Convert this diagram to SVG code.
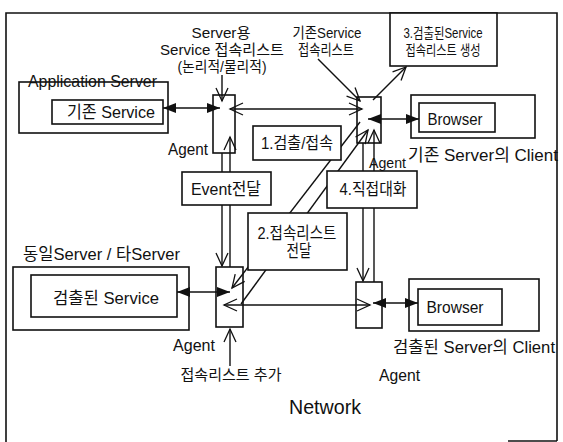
<svg xmlns="http://www.w3.org/2000/svg" width="563" height="442" viewBox="0 0 563 442">
<style>
text{font-family:"Liberation Sans","Noto Sans CJK KR",sans-serif;font-size:16.5px;fill:#111}
.c{text-anchor:middle}
.s{font-size:15px}
.box{fill:none;stroke:#111;stroke-width:1.6}
.lbl{fill:#fff;stroke:#111;stroke-width:1.6}
.ln{fill:none;stroke:#111;stroke-width:1.4}
.fa{marker-start:url(#fh);marker-end:url(#fh)}
.oa{marker-start:url(#oh);marker-end:url(#oh)}
.oe{marker-end:url(#oh)}
</style>
<defs>
<marker id="fh" markerUnits="userSpaceOnUse" markerWidth="14" markerHeight="11" refX="13" refY="5" orient="auto-start-reverse" overflow="visible"><path d="M0,0 L13,5 L0,10 z" fill="#111"/></marker>
<marker id="oh" markerUnits="userSpaceOnUse" markerWidth="14" markerHeight="13" refX="13" refY="6" orient="auto-start-reverse" overflow="visible"><path d="M0,0 L13,6 L0,12" fill="none" stroke="#111" stroke-width="1.3"/></marker>
</defs>
<rect width="563" height="442" fill="#fff"/>
<g id="frame">
<path d="M6,442 V13 H557 V441" class="box"/>
<path d="M508,441 H557" class="box"/>
</g>
<g id="app-server">
<rect x="19" y="82" width="149" height="51" class="box"/>
<text x="28" y="87" textLength="129" lengthAdjust="spacingAndGlyphs">Application Server</text>
<rect x="52" y="100" width="111" height="24" class="box"/>
<text x="111" y="118" class="c" style="font-size:17px" textLength="88" lengthAdjust="spacingAndGlyphs">기존 Service</text>
</g>
<g id="agent1">
<rect x="213" y="95" width="22" height="58" class="box"/>
<text x="188" y="155" class="c" textLength="40" lengthAdjust="spacingAndGlyphs">Agent</text>
</g>
<g id="agent2">
<rect x="357" y="97" width="24" height="46" class="box"/>
<text x="369" y="168" class="s" textLength="37" lengthAdjust="spacingAndGlyphs">Agent</text>
</g>
<g id="client1">
<rect x="411" y="95" width="124" height="43" class="box"/>
<rect x="419" y="103" width="76" height="29" class="box"/>
<text x="455" y="125" class="c" textLength="55" lengthAdjust="spacingAndGlyphs">Browser</text>
<text x="408" y="161" textLength="150" lengthAdjust="spacingAndGlyphs">기존 Server의 Client</text>
</g>
<g id="other-server">
<text x="23" y="260" textLength="157" lengthAdjust="spacingAndGlyphs">동일Server / 타Server</text>
<rect x="13" y="267" width="176" height="63" class="box"/>
<rect x="31" y="275" width="146" height="42" class="box"/>
<text x="106" y="304" class="c" style="font-size:17px" textLength="106" lengthAdjust="spacingAndGlyphs">검출된 Service</text>
</g>
<g id="agent3">
<rect x="216" y="267" width="27" height="60" class="box"/>
<text x="194" y="351" class="c" textLength="42" lengthAdjust="spacingAndGlyphs">Agent</text>
</g>
<g id="agent4">
<rect x="356" y="282" width="26" height="46" class="box"/>
<text x="379" y="381" textLength="41" lengthAdjust="spacingAndGlyphs">Agent</text>
</g>
<g id="client2">
<rect x="409" y="279" width="130" height="52" class="box"/>
<rect x="418" y="289" width="84" height="36" class="box"/>
<text x="455" y="313" class="c" textLength="57" lengthAdjust="spacingAndGlyphs">Browser</text>
<text x="393" y="353" textLength="162" lengthAdjust="spacingAndGlyphs">검출된 Server의 Client</text>
</g>
<g id="labels">
<text x="221" y="38" class="c s" textLength="59" lengthAdjust="spacingAndGlyphs">Server용</text>
<text x="222" y="55" class="c s" textLength="124" lengthAdjust="spacingAndGlyphs">Service 접속리스트</text>
<text x="222" y="72" class="c s" textLength="89" lengthAdjust="spacingAndGlyphs">(논리적/물리적)</text>
<text x="327" y="38" class="c s" textLength="69" lengthAdjust="spacingAndGlyphs">기존Service</text>
<text x="326" y="55" class="c s" textLength="56" lengthAdjust="spacingAndGlyphs">접속리스트</text>
<text x="231" y="380" class="c" style="font-size:15px" textLength="101" lengthAdjust="spacingAndGlyphs">접속리스트 추가</text>
<text x="325" y="414" class="c" style="font-size:21px" textLength="72" lengthAdjust="spacingAndGlyphs">Network</text>
</g>
<g id="connectors">
<line x1="163" y1="108" x2="220" y2="108" class="ln fa"/>
<line x1="230" y1="109" x2="362" y2="109" class="ln oa"/>
<line x1="368" y1="119" x2="419" y2="119" class="ln fa"/>
<line x1="177" y1="292" x2="230" y2="292" class="ln fa"/>
<line x1="224" y1="305" x2="370" y2="305" class="ln oa"/>
<line x1="373" y1="303" x2="418" y2="303" class="ln fa"/>
<line x1="222" y1="153" x2="222" y2="266" class="ln oe"/>
<line x1="230" y1="267" x2="230" y2="137" class="ln oe"/>
<line x1="363" y1="143" x2="363" y2="281" class="ln oe"/>
<line x1="374" y1="282" x2="374" y2="130" class="ln oe"/>
<line x1="360" y1="122" x2="232" y2="288" class="ln oe"/>
<line x1="241" y1="304" x2="368" y2="130" class="ln oe"/>
<line x1="222" y1="75" x2="222" y2="101" class="ln oe"/>
<line x1="318" y1="59" x2="360" y2="101" class="ln oe"/>
<line x1="373" y1="100" x2="406" y2="67" class="ln oe"/>
<line x1="230" y1="366" x2="230" y2="329" class="ln oe"/>
</g>
<g id="box3">
<rect x="390" y="13" width="107" height="53" class="lbl"/>
<text x="443" y="38" class="c" style="font-size:14px" textLength="79" lengthAdjust="spacingAndGlyphs">3.검출된Service</text>
<text x="443" y="55" class="c" style="font-size:14px" textLength="75" lengthAdjust="spacingAndGlyphs">접속리스트 생성</text>
</g>
<g id="step1">
<rect x="253" y="126" width="88" height="34" class="lbl"/>
<text x="297" y="149" class="c" textLength="72" lengthAdjust="spacingAndGlyphs">1.검출/접속</text>
</g>
<g id="event">
<rect x="182" y="172" width="89" height="33" class="lbl"/>
<text x="226" y="195" class="c" textLength="70" lengthAdjust="spacingAndGlyphs">Event전달</text>
</g>
<g id="step4">
<rect x="327" y="171" width="90" height="37" class="lbl"/>
<text x="373" y="195" class="c" textLength="67" lengthAdjust="spacingAndGlyphs">4.직접대화</text>
</g>
<g id="step2">
<rect x="248" y="213" width="99" height="57" class="lbl"/>
<text x="297" y="239" class="c" textLength="79" lengthAdjust="spacingAndGlyphs">2.접속리스트</text>
<text x="299" y="257" class="c" textLength="25" lengthAdjust="spacingAndGlyphs">전달</text>
</g>
</svg>
